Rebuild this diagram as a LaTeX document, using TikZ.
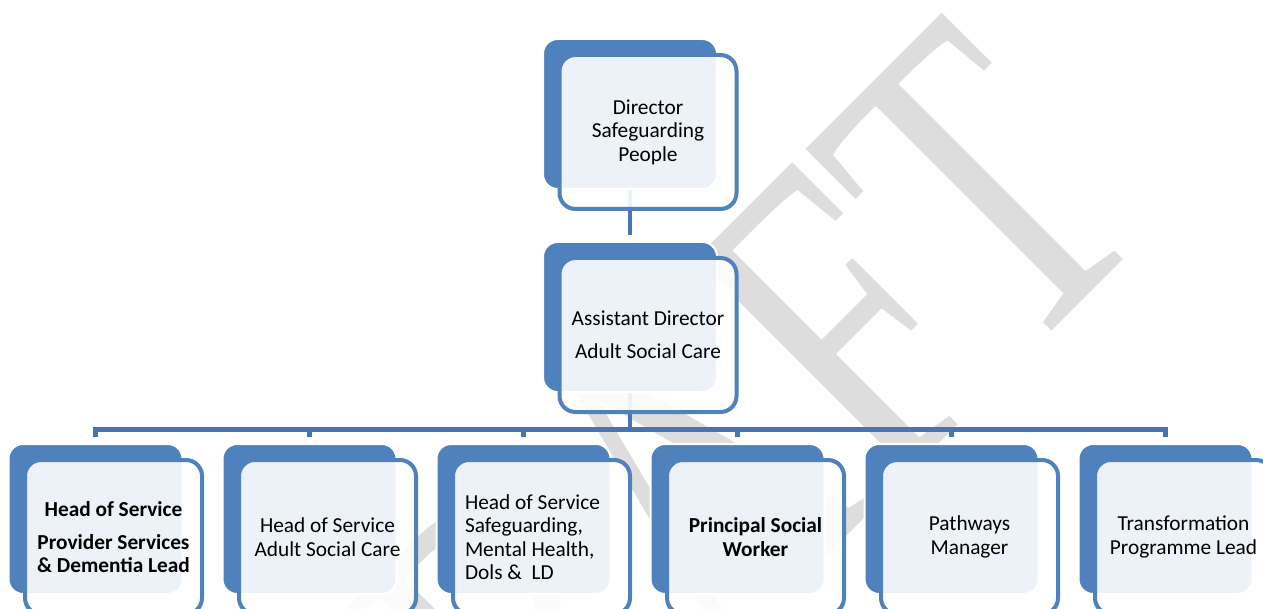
\documentclass[tikz,border=0pt]{standalone}
\usepackage{fontspec}
\setmainfont{Carlito}
\newfontfamily\draftfont{Liberation Serif}
\usetikzlibrary{calc}
\definecolor{boxblue}{RGB}{79,129,189}
\definecolor{linkblue}{RGB}{71,117,173}
\definecolor{draftgray}{RGB}{221,221,221}
\pgfdeclarelayer{back}
\pgfsetlayers{back,main}
\tikzset{
  backbox/.style={draw=white, line width=1.5pt, fill=boxblue, rounded corners=11pt,
    minimum width=130.5pt, minimum height=112.5pt, inner sep=0pt},
  frontbox/.style={draw=boxblue, line width=3pt, fill=white, fill opacity=0.9, text opacity=1,
    rounded corners=12pt, minimum width=132.75pt, minimum height=115.5pt, inner sep=2pt,
    align=center, font=\fontsize{16}{17.6}\selectfont},
  link/.style={draw=linkblue, line width=3.6pt, shorten >=4.5pt}
}
% one box of the chart: blue back plate and the framed front card
\newcommand{\orgunit}[5][]{%
  \node[backbox] (#2B) at (#3,#4) {};
  \node[frontbox,#1] (#2) at ($(#2B)+(18,18)$) {#5};
}

\begin{document}
\begin{tikzpicture}[x=0.75pt, y=-0.75pt]
        \useasboundingbox (0,0) rectangle (1263,609);
        \clip (0,0) rectangle (1263,609);

        % watermark
        \begin{pgfonlayer}{back}
        \node[text=draftgray, inner sep=0pt, anchor=base, rotate=45,
              font=\draftfont\fontsize{346.5}{350}\selectfont] (draft) at (772,611)
              {\scalebox{0.724}[1]{DRAFT}};
        \end{pgfonlayer}

        % top
        \orgunit{dir}{630}{114}{Director\\Safeguarding\\People}
        \orgunit{ad}{630}{317}{Assistant Director\\[7pt]Adult Social Care}

        % row
        \orgunit{hsp}{95.5}{519}{\textbf{Head of Service}\\[7pt]\textbf{Provider Services}\\\textbf{\& Dementia Lead}}
        \orgunit{hsa}{309.5}{519}{Head of Service\\Adult Social Care}
        \orgunit[align=flush left, text width=114.75pt]{hsm}{523.5}{519}{Head of Service\\Safeguarding,\\Mental Health,\\Dols \&~ LD}
        \orgunit{psw}{737.5}{519}{\textbf{Principal Social}\\\textbf{Worker}}
        \orgunit{pwm}{951.5}{519}{Pathways\\Manager}
        \orgunit{tpl}{1165.5}{519}{Transformation\\Programme Lead}

        % links
        \begin{pgfonlayer}{back}
        \draw[link] (dirB.south) -- (adB.north);
        \foreach \nm in {hsp,hsa,hsm,psw,pwm,tpl}
          \draw[link] (adB.south) -- ++(0,36.5) -| (\nm B.north);
        \end{pgfonlayer}
\end{tikzpicture}
\end{document}
